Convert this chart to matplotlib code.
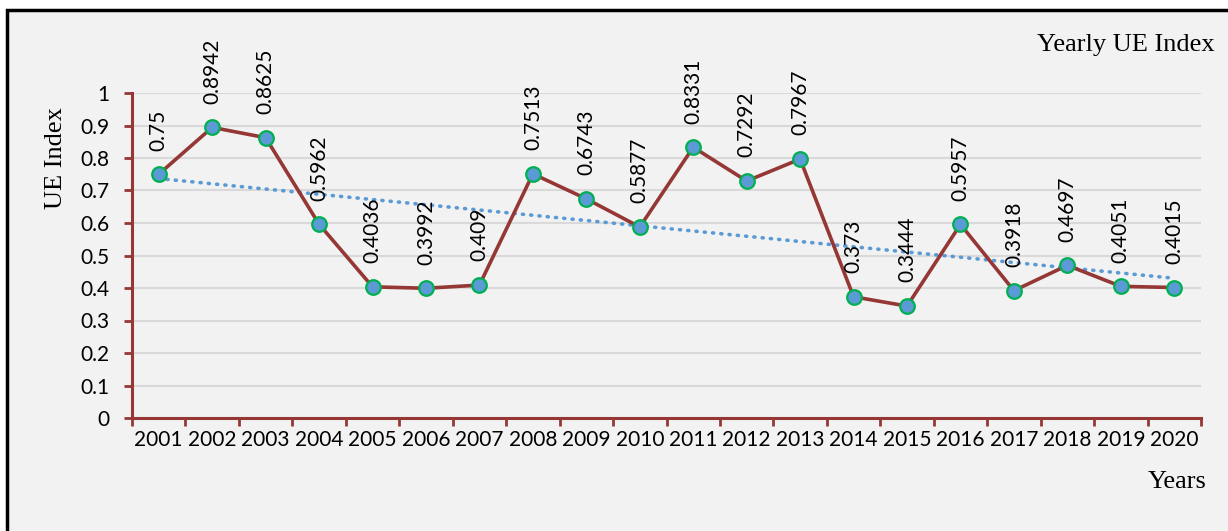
import numpy as np
import matplotlib.pyplot as plt
from matplotlib.patches import Rectangle

# Yearly UE index values
years = ['2001', '2002', '2003', '2004', '2005', '2006', '2007', '2008', '2009', '2010',
         '2011', '2012', '2013', '2014', '2015', '2016', '2017', '2018', '2019', '2020']
ue_index = [0.75, 0.8942, 0.8625, 0.5962, 0.4036, 0.3992, 0.409, 0.7513, 0.6743, 0.5877,
            0.8331, 0.7292, 0.7967, 0.373, 0.3444, 0.5957, 0.3918, 0.4697, 0.4051, 0.4015]
value_labels = ['0.75', '0.8942', '0.8625', '0.5962', '0.4036', '0.3992', '0.409', '0.7513',
                '0.6743', '0.5877', '0.8331', '0.7292', '0.7967', '0.373', '0.3444', '0.5957',
                '0.3918', '0.4697', '0.4051', '0.4015']

axis_red = '#953735'
sans = ['Lato', 'DejaVu Sans']
serif = ['Liberation Serif', 'DejaVu Serif']

x = np.arange(1, len(years) + 1)
y = np.array(ue_index)

fig = plt.figure(figsize=(12.28, 5.31), dpi=100, facecolor='white')
# grey chart area with black frame
fig.patches.append(Rectangle((7 / 1228, -0.05), 1.1, (531 - 10) / 531 + 0.05,
                             transform=fig.transFigure, facecolor='#f2f2f2',
                             edgecolor='black', lw=2.5, zorder=-5))

ax = fig.add_axes([132 / 1228, 1 - 418 / 531, (1201 - 132) / 1228, (418 - 93) / 531])
ax.set_facecolor('none')

ax.set_xlim(0.5, len(years) + 0.5)
ax.set_ylim(0, 1)
ax.set_yticks(np.arange(0, 1.01, 0.1))
ax.set_yticklabels(['0', '0.1', '0.2', '0.3', '0.4', '0.5', '0.6', '0.7', '0.8', '0.9', '1'])
ax.set_xticks(x)
ax.set_xticklabels(years)
ax.set_xticks(np.arange(0.5, len(years) + 1, 1), minor=True)

ax.grid(axis='y', color='#d9d9d9', lw=1.5, zorder=0)
ax.set_axisbelow(True)
for s in ['top', 'right']:
    ax.spines[s].set_visible(False)
for s in ['left', 'bottom']:
    ax.spines[s].set_color(axis_red)
    ax.spines[s].set_linewidth(2.2)

ax.tick_params(axis='x', which='major', length=0, pad=9, labelsize=15)
ax.tick_params(axis='x', which='minor', length=6, width=2, color=axis_red, direction='out')
ax.tick_params(axis='y', length=6, width=2, color=axis_red, pad=10, labelsize=15)
for lab in ax.get_xticklabels() + ax.get_yticklabels():
    lab.set_family(sans)

# linear trendline
coef = np.polyfit(x, y, 1)
ax.plot(x, np.polyval(coef, x), color='#5b9bd5', lw=2.6, linestyle=(0, (0.3, 2.0)),
        dash_capstyle='round', zorder=3)

ax.plot(x, y, color=axis_red, lw=2.6, marker='o', markersize=10.5,
        markerfacecolor='#5b9bd5', markeredgecolor='#00b050', markeredgewidth=1.6,
        zorder=4, clip_on=False)

for xi, yi, lab in zip(x, y, value_labels):
    ax.annotate(lab, (xi, yi), xytext=(0, 17), textcoords='offset points',
                rotation=90, ha='center', va='bottom', fontsize=15, family=sans, zorder=5)

fig.text(56 / 1228, 1 - 158 / 531, 'UE Index', rotation=90, ha='center', va='center',
         fontsize=19, family=serif)
fig.text(1215 / 1228, 1 - 45 / 531, 'Yearly UE Index', ha='right', va='center',
         fontsize=19, family=serif)
fig.text(1207 / 1228, 1 - 482 / 531, 'Years', ha='right', va='center',
         fontsize=19, family=serif)

fig.savefig('out.png', dpi=100, facecolor=fig.get_facecolor())
plt.close(fig)
